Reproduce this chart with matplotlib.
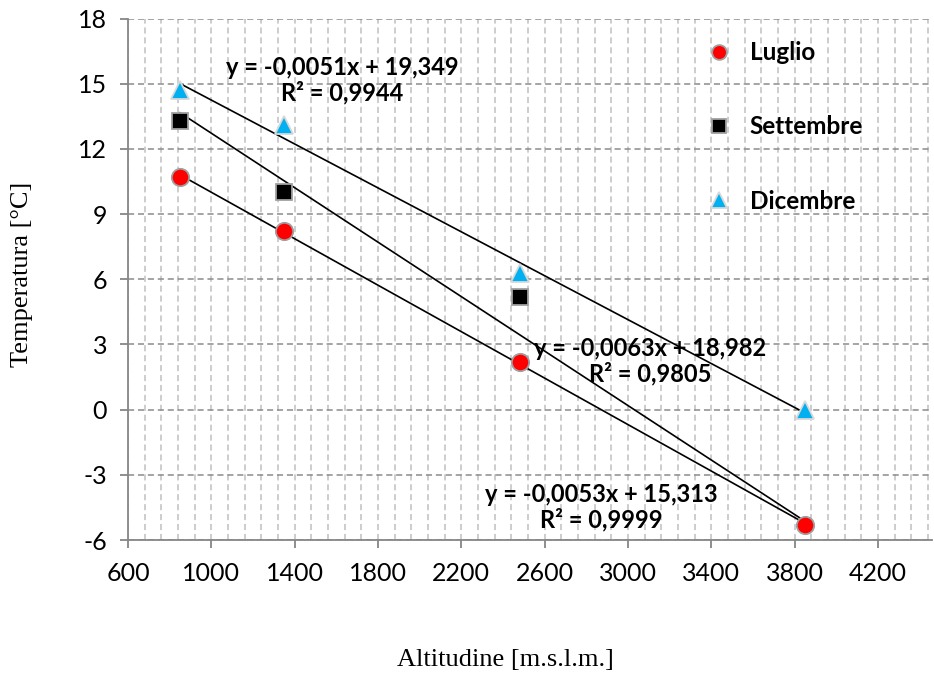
import numpy as np
import matplotlib
matplotlib.use("Agg")
import matplotlib.pyplot as plt
from matplotlib.ticker import MultipleLocator

plt.rcParams["axes.unicode_minus"] = False

# dati
altitudine = [850, 1350, 2480, 3850]
luglio = [10.7, 8.2, 2.2, -5.3]
settembre = [13.3, 10.0, 5.2, -6.0]
dicembre = [14.7, 13.1, 6.3, 0.0]

serie = ["Luglio", "Settembre", "Dicembre"]
eq_testi = ["y = -0,0053x + 15,313\nR² = 0,9999",
            "y = -0,0063x + 18,982\nR² = 0,9805",
            "y = -0,0051x + 19,349\nR² = 0,9944"]
eq_pos = [(2871, -4.48), (3106, 2.23), (1627, 15.15)]

colori = ["#ff0000", "#000000", "#00b0f0"]
marker = ["o", "s", "^"]
msize = [12.5, 11.5, 13.5]
bordi = ["#a0a0a0", "#a0a0a0", "#d8d8d8"]

x_min, x_max = 600, 4460
y_min, y_max = -6, 18

fig = plt.figure(figsize=(9.34, 6.78), dpi=100)
ax = fig.add_axes([128 / 934, 138 / 678, 804 / 934, 521.5 / 678])

x = np.array(altitudine)
for nome, vals, c, m, ms, ec in zip(serie, [luglio, settembre, dicembre], colori, marker, msize, bordi):
    y = np.array(vals)
    # linea di tendenza lineare
    p = np.polyfit(x, y, 1)
    xx = np.array([x.min(), x.max()])
    ax.plot(xx, np.polyval(p, xx), color="black", lw=1.2, zorder=3)
    vis = y > y_min
    ax.plot(x[vis], y[vis], ls="none", marker=m, ms=ms, mfc=c, mec=ec, mew=1.3,
            label=nome, zorder=4)

for testo, (tx, ty) in zip(eq_testi, eq_pos):
    ax.text(tx, ty, testo, ha="center", va="center", fontsize=17,
            fontweight="bold", family="Lato", linespacing=1.1, zorder=5)

ax.set_xlim(x_min, x_max)
ax.set_ylim(y_min, y_max)
ax.xaxis.set_major_locator(MultipleLocator(400, offset=200))
ax.xaxis.set_minor_locator(MultipleLocator(80, offset=40))
ax.yaxis.set_major_locator(MultipleLocator(3))

ax.grid(axis="x", which="both", color="#c0c0c0", ls=(0, (4, 2.5)), lw=1.1)
ax.grid(axis="y", which="major", color="#8c8c8c", ls=(0, (4, 2.5)), lw=1.1)
ax.set_axisbelow(True)

for s in ["top", "right"]:
    ax.spines[s].set_visible(False)
for s in ["left", "bottom"]:
    ax.spines[s].set_color("#868686")
    ax.spines[s].set_linewidth(1.3)

ax.tick_params(axis="both", which="major", direction="out", length=6, width=1.3,
               color="#868686", labelsize=18)
ax.tick_params(axis="x", pad=10)
ax.tick_params(axis="y", pad=9)
ax.tick_params(axis="both", which="minor", length=0)
for lab in ax.get_xticklabels() + ax.get_yticklabels():
    lab.set_family("Lato")

leg = ax.legend(loc="upper left", bbox_to_anchor=(0.693, 0.998), frameon=False,
                prop={"family": "Lato", "weight": "bold", "size": 17.5},
                handlelength=1.0, handletextpad=0.75, labelspacing=2.1, markerscale=0.85)

fig.text(505 / 934, 1 - 660 / 678, "Altitudine [m.s.l.m.]", ha="center", va="center",
         family="Liberation Serif", fontsize=19)
fig.text(22 / 934, 1 - 274 / 678, "Temperatura [°C]", ha="center", va="center",
         rotation=90, family="Liberation Serif", fontsize=19)

fig.savefig("out.png", dpi=100)
